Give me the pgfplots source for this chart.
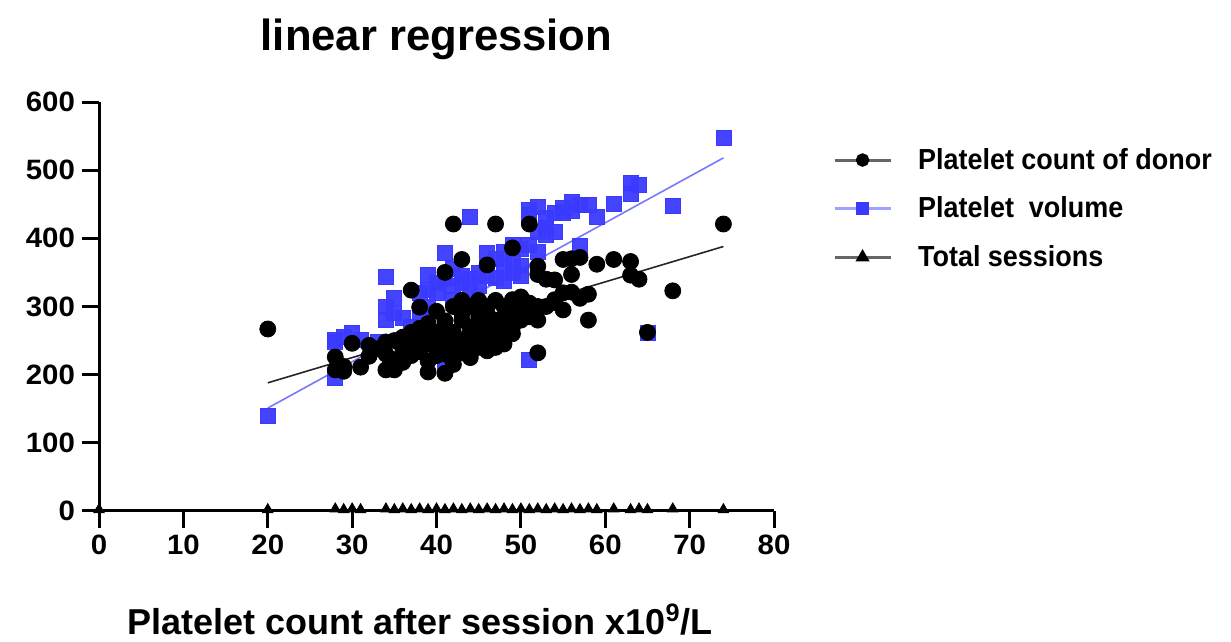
\documentclass[border=0pt]{standalone}
\usepackage{pgfplots}
\pgfplotsset{compat=1.18}
\usepackage{fontspec}
\setmainfont{Liberation Sans}
\newfontfamily\tickfont{Liberation Sans}[FakeStretch=1.05]
\newfontfamily\legfont{Liberation Sans}[FakeStretch=0.93]

\definecolor{ptblue}{RGB}{58,58,255}
\definecolor{lineblue}{RGB}{120,120,255}

\begin{document}
\begin{tikzpicture}
\begin{axis}[
	scale only axis,
	width=337.5pt, height=204.5pt,
	xmin=0, xmax=80, ymin=0, ymax=600,
	xtick={0,10,...,80}, ytick={0,100,...,600},
	axis x line*=bottom, axis y line*=left,
	axis line style={line width=1.5pt},
	tick align=outside,
	major tick length=8.5pt,
	tick style={line width=1.5pt, black},
	ticklabel style={font=\tickfont\bfseries\fontsize{14}{16}\selectfont},
	/pgf/number format/assume math mode=true,
	clip=false,
	title={linear regression},
	title style={at={(axis description cs:0.5,1.124)}, anchor=center, font=\bfseries\fontsize{21.8}{26}\selectfont},
	xlabel={Platelet count after session x10\textsuperscript{9}/L},
	xlabel style={at={(axis description cs:0.4756,-0.266)}, anchor=center, font=\bfseries\fontsize{18}{21}\selectfont},
	legend style={at={(axis description cs:1.078,0.908)}, anchor=north west, draw=none, fill=none,
		font=\legfont\bfseries\fontsize{14.5}{16}\selectfont, row sep=8.3pt, column sep=11pt, cells={anchor=west}},
	legend cell align=left,
	legend image code/.code={\draw[mark repeat=2,mark phase=2,#1] plot coordinates {(0pt,0pt) (14pt,0pt) (28pt,0pt)};},
]
% legend entries
\addlegendimage{line width=1.5pt, black!60, mark=*, mark size=2.6pt, mark options={black, fill=black}}
\addlegendentry{Platelet count of donor}
\addlegendimage{line width=1.5pt, lineblue!70, mark=square*, mark size=2.6pt, mark options={ptblue, fill=ptblue}}
\addlegendentry{Platelet~ volume}
\addlegendimage{line width=1.5pt, black!60, mark=triangle*, mark size=2.6pt, mark options={black, fill=black}}
\addlegendentry{Total sessions}

% platelet volume
\addplot[only marks, mark=square*, mark size=3.75pt, ptblue, mark options={draw=none, fill=ptblue, fill opacity=0.95}, forget plot] table {
x y
20 139
28 195
28 251
28 248
29 255
30 261
31 251
33 248
34 343
34 299
34 280
35 312
35 290
36 283
37 270
38 290
38 320
39 347
39 324
39 300
40 320
40 335
41 378
41 218
41 340
42 330
42 310
42 355
43 345
43 335
44 431
44 340
44 318
45 350
45 330
46 378
46 360
46 345
47 370
47 342
48 380
48 360
48 338
49 365
49 350
49 390
50 385
50 360
50 345
51 441
51 221
51 435
51 390
52 446
52 380
52 410
53 415
53 430
53 405
54 437
54 409
55 444
55 438
56 453
56 440
57 449
57 389
58 449
59 431
61 450
63 482
63 465
64 479
65 262
68 447
74 547
};

% platelet count of donor
\addplot[only marks, mark=*, mark size=4pt, black, forget plot] table {
x y
20 267
28 226
28 207
29 205
29 212
30 246
31 211
32 243
32 227
33 238
34 248
34 207
34 230
35 250
35 207
35 222
36 238
36 255
36 218
37 324
37 262
37 240
37 228
38 299
38 250
38 234
38 268
39 204
39 258
39 245
39 275
39 220
40 293
40 262
40 240
40 228
40 255
41 279
41 202
41 350
41 245
41 268
41 230
42 421
42 300
42 255
42 238
42 262
42 215
43 369
43 309
43 280
43 250
43 232
43 290
44 300
44 270
44 243
44 262
44 225
45 309
45 285
45 262
45 240
45 255
46 361
46 300
46 275
46 250
46 235
46 290
47 421
47 309
47 280
47 262
47 240
48 300
48 270
48 255
48 285
48 245
49 386
49 310
49 290
49 270
49 260
50 314
50 295
50 280
50 300
51 421
51 305
51 285
51 290
52 359
52 347
52 280
52 232
52 300
53 300
53 340
54 306
54 339
54 310
55 369
55 295
55 320
56 347
56 321
56 370
57 312
57 372
58 318
58 280
59 362
61 369
63 366
63 346
64 340
65 262
68 323
74 421
};

% total sessions
\addplot[only marks, mark=triangle*, mark size=3pt, black, forget plot] table {
x y
0 2
20 2
28 3
29 2
30 3
31 2
34 3
35 2
36 3
37 2
38 3
39 2
40 3
41 2
42 3
43 2
44 3
45 2
46 3
47 2
48 3
49 2
50 3
51 2
52 3
53 2
54 3
55 2
56 3
57 2
58 3
59 2
61 3
63 2
64 3
65 2
68 3
74 2
};

% regression lines
\addplot[black!85, line width=0.8pt, forget plot] coordinates {(20,188) (74,388)};
\addplot[lineblue, line width=0.8pt, forget plot] coordinates {(20,151) (74,518)};
\addplot[black, line width=0.8pt, forget plot] coordinates {(0,1.5) (74,1.5)};

\coordinate (bbl) at (rel axis cs:-0.1467,-0.3007);
\coordinate (btr) at (rel axis cs:1.677,1.2494);
\end{axis}
\path (bbl) rectangle (btr);
\end{tikzpicture}
\end{document}
